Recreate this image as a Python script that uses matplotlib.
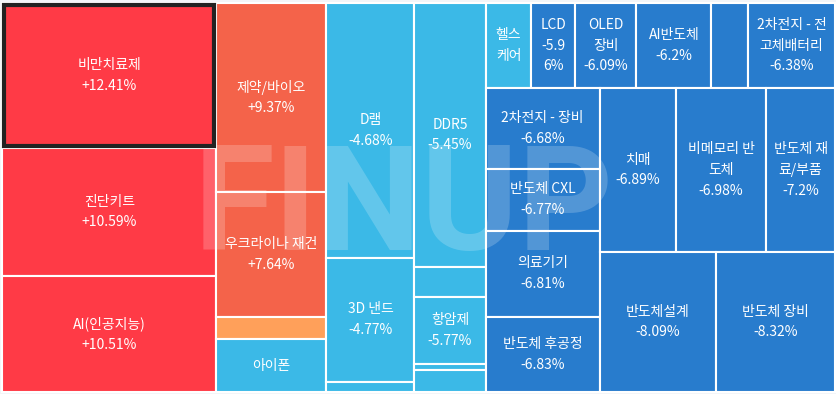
import matplotlib.pyplot as plt
from matplotlib.patches import Rectangle

plt.rcParams['font.family'] = ['Noto Sans CJK KR', 'DejaVu Sans']

# 테마 이름 (줄바꿈은 그림에 보이는 대로), 등락률, 크기(면적)
names = ['비만치료제', '진단키트', 'AI(인공지능)',
         '제약/바이오', '우크라이나 재건', '', '아이폰',
         'D램', '3D 낸드', '',
         'DDR5', '', '항암제', '', '',
         '헬스\n케어', 'LCD', 'OLED\n장비', 'AI반도체', '', '2차전지 - 전\n고체배터리',
         '2차전지 - 장비', '반도체 CXL', '의료기기', '반도체 후공정',
         '치매', '비메모리 반\n도체', '반도체 재\n료/부품',
         '반도체설계', '반도체 장비']
changes = [12.41, 10.59, 10.51,
           9.37, 7.64, 5.0, -4.5,
           -4.68, -4.77, -5.0,
           -5.45, -5.6, -5.77, -5.8, -5.85,
           -5.9, -5.96, -6.09, -6.2, -6.3, -6.38,
           -6.68, -6.77, -6.81, -6.83,
           -6.89, -6.98, -7.2,
           -8.09, -8.32]
sizes = [310, 274, 248,
         208, 138, 24, 58,
         224, 109, 9,
         188, 21, 48, 4, 16,
         39, 37, 52, 64, 31, 74,
         92, 71, 98, 86,
         125, 148, 113,
         162, 167]
# 한 줄(strip)에 들어가는 개수
groups = [3, 4, 3, 5, 6, 4, 3, 1, 1]
no_pct = ['헬스\n케어', '아이폰']
pct_text = {'LCD': '-5.9\n6%'}


def color_of(c):
    if c >= 10:
        return '#ff3a46'
    if c >= 7:
        return '#f4634a'
    if c > 0:
        return '#ffa05a'
    if c > -5.95:
        return '#3bb9e7'
    return '#287ccd'


def layout(sizes, groups, x, y, w, h):
    rects = []
    scale = w * h / sum(sizes)
    i = 0
    for g in groups:
        part = sizes[i:i + g]
        area = sum(part) * scale
        if w >= h:
            sw = area / h
            yy = y
            for s in part:
                hh = s * scale / sw
                rects.append((x, yy, sw, hh))
                yy += hh
            x += sw
            w -= sw
        else:
            sh = area / w
            xx = x
            for s in part:
                ww = s * scale / sh
                rects.append((xx, y, ww, sh))
                xx += ww
            y += sh
            h -= sh
        i += g
    return rects


W, H = 837, 394
fig = plt.figure(figsize=(8.37, 3.94), dpi=100)
fig.patch.set_facecolor('#f3f5f8')
ax = fig.add_axes([0, 0, 1, 1])
ax.set_xlim(0, W)
ax.set_ylim(H, 0)
ax.axis('off')

rects = layout(sizes, groups, 2.5, 3, 832.5, 389)

for (x, y, w, h), name, c in zip(rects, names, changes):
    ax.add_patch(Rectangle((x, y), w, h, facecolor=color_of(c),
                           edgecolor='white', lw=1.5, zorder=1))

# 선택된 셀 테두리
x, y, w, h = rects[0]
ax.add_patch(Rectangle((x + 2, y + 2), w - 4, h - 4, fill=False,
                       edgecolor='#222222', lw=3, zorder=4))

ax.text(404, 210, 'FINUP', family='Roboto', fontweight='bold', fontsize=106,
        color='white', alpha=0.2, ha='center', va='center', zorder=2)

for (x, y, w, h), name, c in zip(rects, names, changes):
    if not name:
        continue
    if name in no_pct:
        txt = name
    else:
        p = pct_text.get(name, f'{c:+.2f}%'.replace('.20%', '.2%'))
        txt = name + '\n' + p
    ax.text(x + w / 2, y + h / 2, txt, ha='center', va='center',
            color='white', fontsize=10, linespacing=1.6, zorder=3)

fig.savefig('out.png', dpi=100, facecolor=fig.get_facecolor())
